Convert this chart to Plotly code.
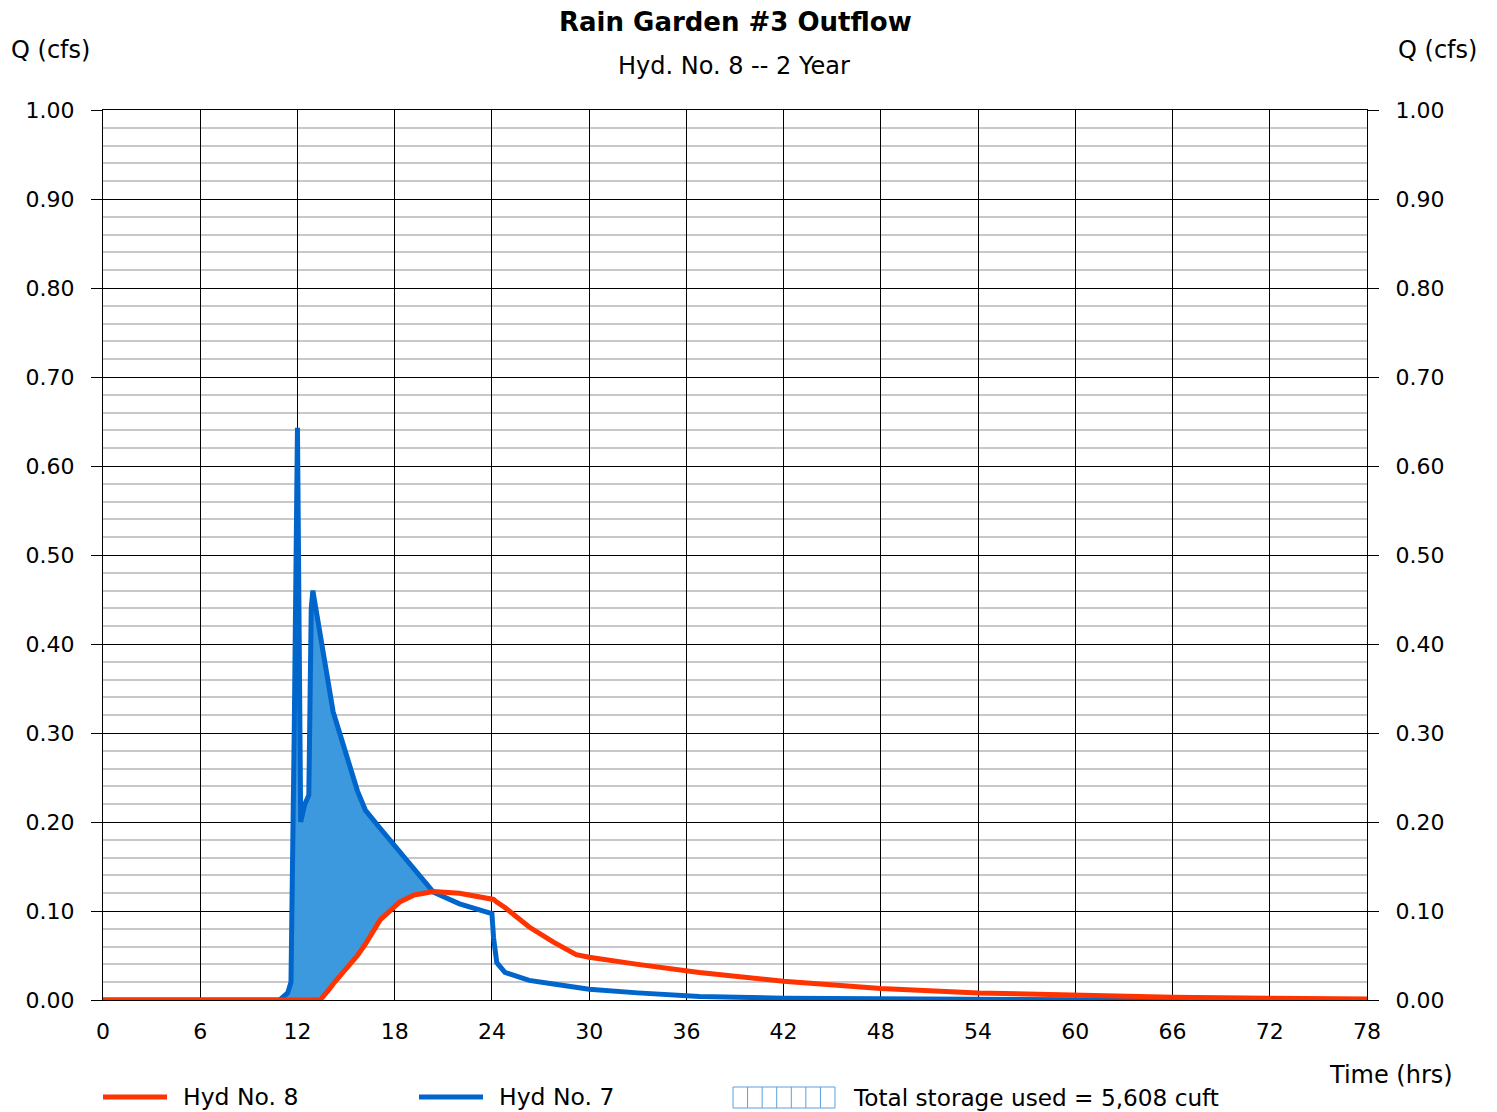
import plotly.graph_objects as go

# hydrograph readings (time in hrs, flow in cfs)
time_hrs = [0, 10.9, 11.4, 11.6, 11.8, 12.0, 12.2, 12.45, 12.7, 12.85, 12.95,
            13.4, 14.0, 14.2, 15.7, 16.2, 17.1, 18.3, 19.2, 20.4, 22.0, 24.0,
            24.1, 24.3, 24.8, 26.3, 27.8, 29.2, 30.0, 33.0, 36.8, 42, 48, 54,
            60, 66, 72, 78]
hyd7_q = [0, 0, 0.008, 0.02, 0.30, 0.643, 0.20, 0.22, 0.23, 0.44, 0.46,
          0.41, 0.345, 0.324, 0.235, 0.213, 0.193, 0.167, 0.147, 0.121, 0.108,
          0.097, 0.07, 0.042, 0.031, 0.022, 0.018, 0.014, 0.012, 0.008, 0.004,
          0.002, 0.001, 0.0005, 0.0003, 0.0002, 0.0001, 0]
hyd8_q = [0, 0, 0, 0, 0, 0, 0, 0, 0, 0, 0,
          0, 0.013, 0.018, 0.050, 0.063, 0.090, 0.110, 0.118, 0.122, 0.120,
          0.114, 0.113, 0.110, 0.104, 0.082, 0.065, 0.051, 0.048, 0.040, 0.031,
          0.021, 0.013, 0.008, 0.005, 0.003, 0.002, 0.001]
x_ticks = list(range(0, 79, 6))

RED = '#ff3300'
BLUE = '#0066cc'
FILL = '#3d99de'
HATCH = '#5aa0e0'
FONT = 'DejaVu Sans, Liberation Sans, Arial, sans-serif'

# storage = part where inflow is above outflow
store = [i for i, t in enumerate(time_hrs) if 10.9 <= t <= 20.4]
st_t = [time_hrs[i] for i in store]

fig = go.Figure()
fig.add_trace(go.Scatter(x=st_t, y=[hyd8_q[i] for i in store], mode='lines',
                         line=dict(width=0), showlegend=False, hoverinfo='skip'))
fig.add_trace(go.Scatter(x=st_t, y=[hyd7_q[i] for i in store], mode='lines',
                         line=dict(width=0), fill='tonexty', fillcolor=FILL,
                         showlegend=False, hoverinfo='skip'))
fig.add_trace(go.Scatter(x=time_hrs, y=hyd7_q, mode='lines', name='Hyd No. 7',
                         line=dict(color=BLUE, width=5)))
fig.add_trace(go.Scatter(x=time_hrs, y=hyd8_q, mode='lines', name='Hyd No. 8',
                         line=dict(color=RED, width=5)))
# dummy trace so the right axis gets drawn
fig.add_trace(go.Scatter(x=time_hrs, y=hyd8_q, yaxis='y2', mode='lines',
                         line=dict(width=0), showlegend=False, hoverinfo='skip'))

# plot area in page pixels (page body has an 8px margin)
L, R, T, B = 103, 1367, 110, 1000
W, H = R - L, B - T
OFF = 8
FW, FH = 1497 - OFF, 1112 - OFF


def px(x):
    return (x - L) / W


def py(y):
    return (B - y) / H


ann = []
def txt(s, x, y, size=24, xanchor='center'):
    ann.append(dict(text=s, x=px(x), y=py(y), xref='paper', yref='paper',
                    showarrow=False, xanchor=xanchor, yanchor='middle',
                    font=dict(size=size, color='black', family=FONT)))

txt('<b>Rain Garden #3 Outflow</b>', 735, 22, size=26)
txt('Hyd. No. 8 -- 2 Year', 734, 66)
txt('Q (cfs)', 50, 50)
txt('Q (cfs)', 1437, 50)
txt('Time (hrs)', 1391, 1075)
txt('Hyd No. 8', 181, 1097, size=23.5, xanchor='left')
txt('Hyd No. 7', 497, 1097, size=23.5, xanchor='left')
txt('Total storage used = 5,608 cuft', 851, 1097, size=23.2, xanchor='left')

shapes = [
    dict(type='line', xref='paper', yref='paper', x0=px(103), x1=px(167),
         y0=py(1097), y1=py(1097), line=dict(color=RED, width=5)),
    dict(type='line', xref='paper', yref='paper', x0=px(419), x1=px(483),
         y0=py(1097), y1=py(1097), line=dict(color=BLUE, width=5)),
    dict(type='rect', xref='paper', yref='paper', x0=px(733), x1=px(835),
         y0=py(1087), y1=py(1108), line=dict(color=HATCH, width=1)),
]
for k in range(1, 7):
    xx = 733 + k * (835 - 733) / 7
    shapes.append(dict(type='line', xref='paper', yref='paper', x0=px(xx), x1=px(xx),
                       y0=py(1087), y1=py(1108), line=dict(color=HATCH, width=1)))

yax = dict(range=[0, 1], dtick=0.1, tick0=0, tickformat='.2f', ticks='outside',
           ticklen=11, tickcolor='black', tickwidth=1, ticklabelstandoff=12,
           tickfont=dict(size=22, color='black', family=FONT), zeroline=False)

fig.update_layout(
    width=FW, height=FH,
    margin=dict(l=L - OFF, r=FW - (R - OFF), t=T - OFF, b=FH - (B - OFF)),
    paper_bgcolor='white', plot_bgcolor='white',
    showlegend=False,
    font=dict(family=FONT, color='black'),
    xaxis=dict(range=[0, 78], tickvals=x_ticks, ticks='outside', ticklen=12,
               tickcolor='rgba(0,0,0,0)', showgrid=True, gridcolor='black',
               gridwidth=1, zeroline=False, showline=True, linecolor='black',
               linewidth=1, mirror=True,
               tickfont=dict(size=22, color='black', family=FONT)),
    yaxis=dict(**yax, showgrid=True, gridcolor='black', gridwidth=1,
               showline=True, linecolor='black', linewidth=1, mirror=True,
               minor=dict(dtick=0.02, showgrid=True, gridcolor='#c8c8c8', gridwidth=2)),
    yaxis2=dict(**yax, overlaying='y', side='right', showgrid=False),
    annotations=ann,
    shapes=shapes,
)

fig.write_html("out.html")
